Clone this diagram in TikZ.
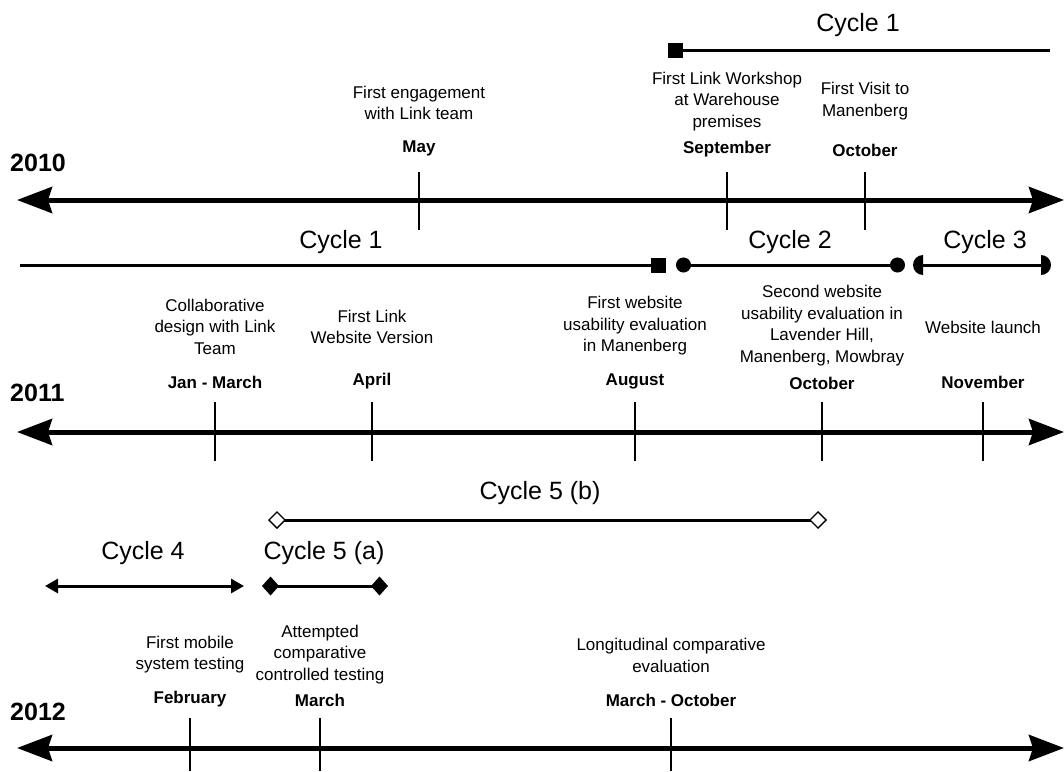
\documentclass[tikz,border=0pt]{standalone}
\usepackage{fontspec}
\setmainfont{Liberation Sans}
\usetikzlibrary{arrows.meta}
\begin{document}
\begin{tikzpicture}[x=1pt,y=-1pt,
  axisline/.style={line width=5pt,{Stealth[length=35pt,width=26pt,inset=4pt]}-{Stealth[length=35pt,width=26pt,inset=4pt]}},
  tickline/.style={line width=1.2pt},
  cycleline/.style={line width=3pt},
  lbl/.style={align=center,inner sep=0pt,font=\fontsize{17}{21.5}\selectfont},
  mon/.style={inner sep=0pt,font=\fontsize{17}{21.5}\selectfont\bfseries},
  yr/.style={inner sep=0pt,anchor=west,font=\fontsize{25}{30}\selectfont\bfseries},
  cyc/.style={inner sep=0pt,font=\fontsize{25}{30}\selectfont}]
\useasboundingbox (0,0) rectangle (1064,771);
% ---------- 2010 ----------
\node[yr] (y10) at (10,163) {2010};
\coordinate (a10l) at (17,200);
\coordinate (a10r) at (1064,200);
\draw[axisline] (a10l) -- (a10r);
\foreach \n/\x in {may/419,sep/727,oct/865}{
  \coordinate (t10\n a) at (\x,172);
  \coordinate (t10\n b) at (\x,230);
  \draw[tickline] (t10\n a) -- (t10\n b);}
\node[lbl] (l10may) at (419,103) {First engagement\\with Link team};
\node[mon] (m10may) at (419,148) {May};
\node[lbl] (l10sep) at (727,101.5) {First Link Workshop\\at Warehouse\\premises};
\node[mon] (m10sep) at (727,149) {September};
\node[lbl] (l10oct) at (865,101) {First Visit to\\Manenberg};
\node[mon] (m10oct) at (865,150) {October};
\node[cyc] (c1top) at (858,25) {Cycle 1};
\coordinate (c1ta) at (668,50);
\coordinate (c1tb) at (1050,50);
\draw[cycleline,{Square[length=15pt,width=15pt]}-] (c1ta) -- (c1tb);
% ---------- 2011 ----------
\node[cyc] (c1) at (341,242) {Cycle 1};
\node[cyc] (c2) at (790,242) {Cycle 2};
\node[cyc] (c3) at (985,242) {Cycle 3};
\coordinate (c1a) at (20,265);
\coordinate (c1b) at (666,265);
\draw[cycleline,-{Square[length=15pt,width=15pt]}] (c1a) -- (c1b);
\coordinate (c2a) at (676,265);
\coordinate (c2b) at (905,265);
\draw[cycleline,{Circle[length=15pt]}-{Circle[length=15pt]}] (c2a) -- (c2b);
\coordinate (c3a) at (923,265);
\coordinate (c3b) at (1041,265);
\draw[cycleline] (c3a) -- (c3b);
\fill ([yshift=10pt]c3a) arc[start angle=270,end angle=90,radius=10] -- cycle;
\fill ([yshift=10pt]c3b) arc[start angle=-90,end angle=90,radius=10] -- cycle;
\node[yr] (y11) at (10,393) {2011};
\coordinate (a11l) at (17,432);
\coordinate (a11r) at (1064,432);
\draw[axisline] (a11l) -- (a11r);
\foreach \n/\x in {jan/215,apr/372,aug/635,oct/822,nov/983}{
  \coordinate (t11\n a) at (\x,402);
  \coordinate (t11\n b) at (\x,461);
  \draw[tickline] (t11\n a) -- (t11\n b);}
\node[lbl] (l11jan) at (215,326.5) {Collaborative\\design with Link\\Team};
\node[mon] (m11jan) at (215,382) {Jan - March};
\node[lbl] (l11apr) at (372,327) {First Link\\Website Version};
\node[mon] (m11apr) at (372,381) {April};
\node[lbl] (l11aug) at (635,326) {First website\\usability evaluation\\in Manenberg};
\node[mon] (m11aug) at (635,381) {August};
\node[lbl] (l11oct) at (822,325.5) {Second website\\usability evaluation in\\Lavender Hill,\\Manenberg, Mowbray};
\node[mon] (m11oct) at (822,383) {October};
\node[lbl] (l11nov) at (983,327) {Website launch};
\node[mon] (m11nov) at (983,382) {November};
% ---------- 2012 ----------
\node[cyc] (c5b) at (540,493) {Cycle 5 (b)};
\coordinate (c5ba) at (268,520);
\coordinate (c5bb) at (827,520);
\draw[cycleline,{Diamond[open,length=18pt,width=18pt,line width=1.3pt,fill=white]}-{Diamond[open,length=18pt,width=18pt,line width=1.3pt,fill=white]}] (c5ba) -- (c5bb);
\node[cyc] (c4) at (143,553) {Cycle 4};
\node[cyc] (c5a) at (324,553) {Cycle 5 (a)};
\coordinate (c4a) at (45,586);
\coordinate (c4b) at (244,586);
\draw[cycleline,{Triangle[length=13pt,width=14pt]}-{Triangle[length=13pt,width=14pt]}] (c4a) -- (c4b);
\coordinate (c5aa) at (262,586);
\coordinate (c5ab) at (388,586);
\draw[cycleline,{Diamond[length=17pt,width=19pt]}-{Diamond[length=17pt,width=19pt]}] (c5aa) -- (c5ab);
\node[yr] (y12) at (10,712) {2012};
\coordinate (a12l) at (17,748);
\coordinate (a12r) at (1064,748);
\draw[axisline] (a12l) -- (a12r);
\foreach \n/\x in {feb/190,mar/320,mo/671}{
  \coordinate (t12\n a) at (\x,718);
  \coordinate (t12\n b) at (\x,771);
  \draw[tickline] (t12\n a) -- (t12\n b);}
\node[lbl] (l12feb) at (190,654.5) {First mobile\\system testing};
\node[mon] (m12feb) at (190,699) {February};
\node[lbl] (l12mar) at (320,654.5) {Attempted\\comparative\\controlled testing};
\node[mon] (m12mar) at (320,700) {March};
\node[lbl] (l12mo) at (671,655.5) {Longitudinal comparative\\evaluation};
\node[mon] (m12mo) at (671,700) {March - October};
\end{tikzpicture}
\end{document}
